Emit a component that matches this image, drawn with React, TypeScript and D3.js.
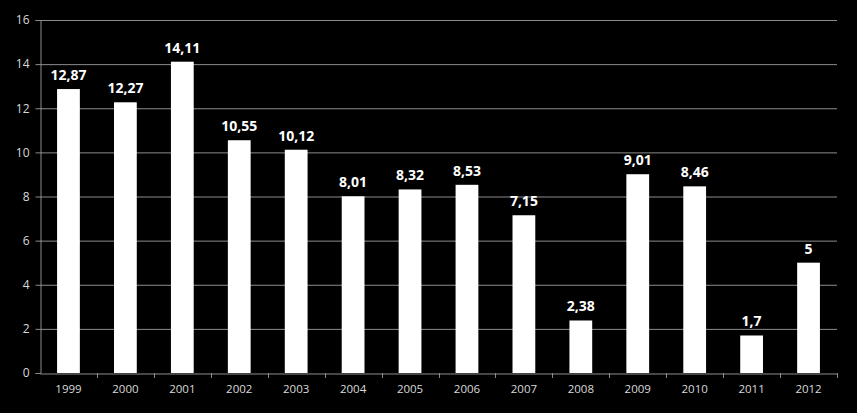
import React, { useEffect, useRef } from "react";
import { select, scaleLinear, scaleBand, axisLeft, axisBottom } from "d3";

const years = ["1999", "2000", "2001", "2002", "2003", "2004", "2005", "2006", "2007", "2008", "2009", "2010", "2011", "2012"];
const values = [12.87, 12.27, 14.11, 10.55, 10.12, 8.01, 8.32, 8.53, 7.15, 2.38, 9.01, 8.46, 1.7, 5];
const yTicks = [0, 2, 4, 6, 8, 10, 12, 14, 16];

const W = 857;
const H = 413;
const margin = { top: 20, right: 20, bottom: 40, left: 40 };

const App = () => {
  const svgRef = useRef<SVGSVGElement>(null);

  useEffect(() => {
    const svg = select(svgRef.current);
    svg.selectAll("*").remove();

    const x = scaleBand().domain(years).range([margin.left, W - margin.right]).padding(0);
    const y = scaleLinear().domain([0, 16]).range([H - margin.bottom, margin.top]);
    const barW = x.bandwidth() * 0.4;

    // grid
    svg
      .append("g")
      .selectAll("line")
      .data(yTicks.filter((d) => d > 0))
      .join("line")
      .attr("x1", margin.left)
      .attr("x2", W - margin.right)
      .attr("y1", (d) => y(d) + 0.5)
      .attr("y2", (d) => y(d) + 0.5)
      .attr("stroke", "#8c8c8c")
      .attr("stroke-width", 1);

    // bars
    svg
      .append("g")
      .selectAll("rect")
      .data(values)
      .join("rect")
      .attr("x", (d, i) => (x(years[i]) as number) + (x.bandwidth() - barW) / 2)
      .attr("y", (d) => y(d))
      .attr("width", barW)
      .attr("height", (d) => y(0) - y(d))
      .attr("fill", "#ffffff");

    // value labels
    svg
      .append("g")
      .selectAll("text")
      .data(values)
      .join("text")
      .attr("x", (d, i) => (x(years[i]) as number) + x.bandwidth() / 2)
      .attr("y", (d) => y(d) - 9)
      .attr("text-anchor", "middle")
      .attr("fill", "#ffffff")
      .attr("font-family", "'Open Sans', sans-serif")
      .attr("font-weight", "bold")
      .attr("font-size", 14)
      .text((d) => String(d).replace(".", ","));

    // y axis
    const yAxis = svg
      .append("g")
      .attr("transform", `translate(${margin.left + 0.5},0)`)
      .call(axisLeft(y).tickValues(yTicks).tickSize(5).tickPadding(6));
    yAxis.select(".domain").attr("stroke", "#8c8c8c");
    yAxis.selectAll(".tick line").attr("stroke", "#8c8c8c");
    yAxis
      .selectAll(".tick text")
      .attr("fill", "#d9d9d9")
      .attr("font-family", "'Open Sans', sans-serif")
      .attr("font-size", 12);

    // x axis
    const xAxis = svg
      .append("g")
      .attr("transform", `translate(0,${y(0) + 0.5})`)
      .call(axisBottom(x).tickSize(0).tickPadding(11));
    xAxis.select(".domain").attr("stroke", "#8c8c8c");
    xAxis
      .selectAll(".tick text")
      .attr("fill", "#d9d9d9")
      .attr("font-family", "'Open Sans', sans-serif")
      .attr("font-size", 11.5);

    // category separators
    svg
      .append("g")
      .selectAll("line")
      .data(years.slice(1))
      .join("line")
      .attr("x1", (d) => Math.round(x(d) as number) + 0.5)
      .attr("x2", (d) => Math.round(x(d) as number) + 0.5)
      .attr("y1", y(0))
      .attr("y2", y(0) + 5)
      .attr("stroke", "#8c8c8c");
    svg
      .append("line")
      .attr("x1", W - margin.right + 0.5)
      .attr("x2", W - margin.right + 0.5)
      .attr("y1", y(0))
      .attr("y2", y(0) + 5)
      .attr("stroke", "#8c8c8c");
  }, []);

  return (
    <div style={{ position: "fixed", left: 0, top: 0 }}>
      <svg ref={svgRef} width={W} height={H} style={{ background: "#000", display: "block" }} />
    </div>
  );
};

export default App;
